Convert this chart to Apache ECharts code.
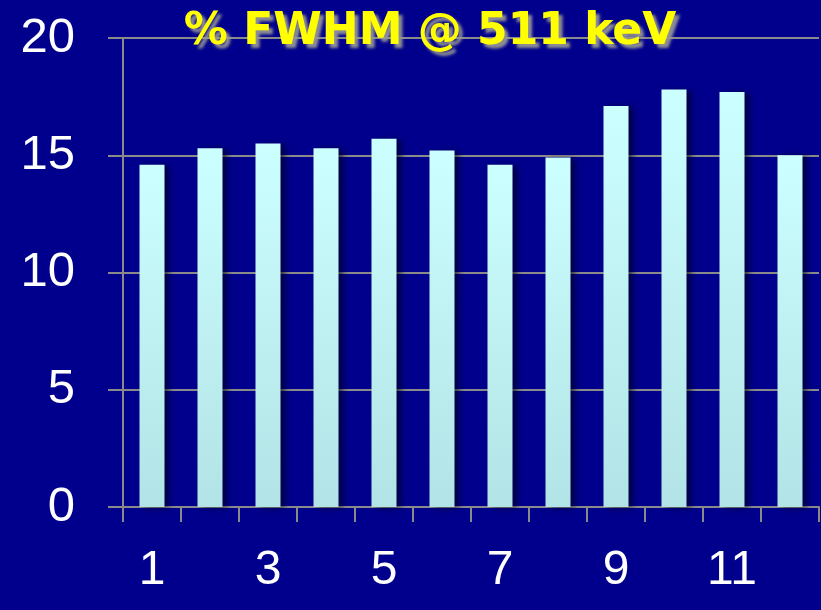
<!DOCTYPE html>
<html>
<head>
<meta charset="utf-8">
<script src="https://cdn.jsdelivr.net/npm/echarts@6/dist/echarts.min.js"></script>
<style>
  html, body { margin: 0; padding: 0; background: #00008c; }
  #chart { width: 821px; height: 610px; }
</style>
</head>
<body>
<div id="chart"></div>
<script>
// Energy resolution per detector module
const categories = ['1', '2', '3', '4', '5', '6', '7', '8', '9', '10', '11', '12'];
const fwhmValues = [14.6, 15.3, 15.5, 15.3, 15.7, 15.2, 14.6, 14.9, 17.1, 17.8, 17.7, 15.0];
const yTicks = { min: 0, max: 20, interval: 5 };
const titleText = '% FWHM @ 511 keV';

const gray = '#8a8a8a';
const chart = echarts.init(document.getElementById('chart'), null, { renderer: 'canvas' });

chart.setOption({
  backgroundColor: '#00008c',
  animation: false,
  grid: { left: 123, right: 2, top: 38, bottom: 103, containLabel: false },
  xAxis: {
    type: 'category',
    data: categories,
    boundaryGap: true,
    axisLine: { show: true, lineStyle: { color: gray, width: 2 } },
    axisTick: { show: true, interval: 0, length: 15, lineStyle: { color: gray, width: 2 } },
    axisLabel: {
      interval: 1,
      margin: 40,
      color: '#ffffff',
      fontSize: 48,
      fontFamily: 'Liberation Sans, Arial, sans-serif'
    },
    splitLine: { show: false }
  },
  yAxis: {
    type: 'value',
    min: yTicks.min,
    max: yTicks.max,
    interval: yTicks.interval,
    axisLine: { show: true, lineStyle: { color: gray, width: 2 } },
    axisTick: { show: true, length: 15, lineStyle: { color: gray, width: 2 } },
    axisLabel: {
      margin: 48,
      color: '#ffffff',
      fontSize: 49,
      fontFamily: 'Liberation Sans, Arial, sans-serif'
    },
    splitLine: { show: true, lineStyle: { color: gray, width: 2 } }
  },
  series: [{
    type: 'bar',
    data: fwhmValues,
    barWidth: 25,
    itemStyle: {
      color: new echarts.graphic.LinearGradient(0, 0, 0, 1, [
        { offset: 0, color: '#ccffff' },
        { offset: 1, color: '#b2e3e6' }
      ]),
      shadowColor: 'rgba(0, 0, 20, 0.6)',
      shadowBlur: 6,
      shadowOffsetX: 4,
      shadowOffsetY: 1
    }
  }],
  graphic: [{
    type: 'text',
    x: 430,
    y: 33,
    z: 100,
    style: {
      text: titleText,
      fill: '#ffff00',
      font: 'bold 44px "DejaVu Sans", sans-serif',
      align: 'center',
      verticalAlign: 'middle',
      textShadowColor: 'rgba(150, 150, 150, 0.95)',
      textShadowBlur: 3,
      textShadowOffsetX: 4,
      textShadowOffsetY: 4
    }
  }]
});
</script>
</body>
</html>
